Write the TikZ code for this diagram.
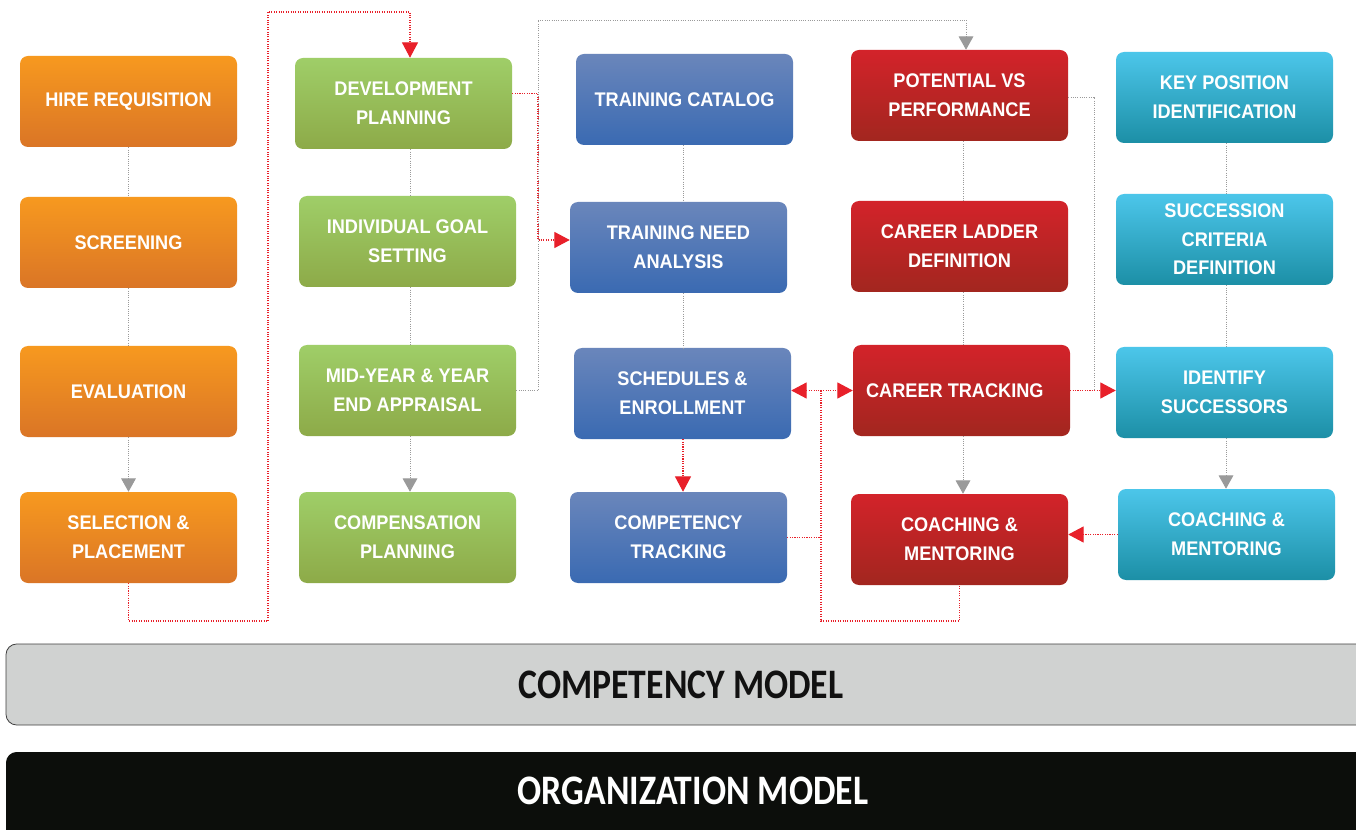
\documentclass[tikz,border=0pt]{standalone}
\usepackage{fontspec}
\usetikzlibrary{arrows.meta,calc}
\newfontfamily\bxf[FakeStretch=0.92]{Liberation Sans}
\newfontfamily\barf[FakeStretch=0.85]{Carlito}
\definecolor{OrT}{HTML}{F7991F}
\definecolor{OrB}{HTML}{DA7526}
\definecolor{GrT}{HTML}{9FCE68}
\definecolor{GrB}{HTML}{8DAA48}
\definecolor{BlT}{HTML}{6A86BB}
\definecolor{BlB}{HTML}{3A6AB2}
\definecolor{RdT}{HTML}{D3232A}
\definecolor{RdB}{HTML}{A2261F}
\definecolor{CyT}{HTML}{4CC6EA}
\definecolor{CyB}{HTML}{1C8FA6}
\definecolor{LineGray}{HTML}{9A9A9A}
\definecolor{LineRed}{HTML}{E8202A}
\definecolor{BarGray}{HTML}{D0D2D1}
\definecolor{BarBlack}{HTML}{0C0E0B}
\definecolor{TextDark}{HTML}{111111}
\begin{document}
\begin{tikzpicture}[x=0.75pt,y=-0.75pt,
  box/.style={rounded corners=6pt, minimum width=162.75pt, minimum height=68.25pt,
    align=center, text=white, inner sep=0pt,
    font=\bxf\bfseries\fontsize{14.8}{21.5}\selectfont},
  obox/.style={box, top color=OrT, bottom color=OrB},
  gbox/.style={box, top color=GrT, bottom color=GrB},
  bbox/.style={box, top color=BlT, bottom color=BlB},
  rbox/.style={box, top color=RdT, bottom color=RdB},
  cbox/.style={box, top color=CyT, bottom color=CyB},
  gline/.style={draw=LineGray, densely dotted, line width=0.7pt},
  garrow/.style={gline, -{Triangle[width=11pt,length=10pt]}},
  rline/.style={draw=LineRed, densely dotted, line width=0.8pt},
  rarrow/.style={rline, -{Triangle[width=12pt,length=11.5pt]}},
  rdarrow/.style={rline, {Triangle[width=12pt,length=11.5pt]}-{Triangle[width=12pt,length=11.5pt]}},
  bartext/.style={font=\barf\bfseries\fontsize{31.5}{36}\selectfont, inner sep=0pt},
]
\fill[white] (0,0) rectangle (1356,830);
\useasboundingbox (0,0) rectangle (1356,830);
\clip (0,0) rectangle (1356,830);

% nodes
\node[obox] (hire) at (128.5,101.5) {HIRE REQUISITION};
\node[obox] (scr) at (128.5,242.5) {SCREENING};
\node[obox] (eva) at (128.5,391.5) {EVALUATION};
\node[obox] (sel) at (128.5,537.5) {SELECTION \&\\PLACEMENT};

\node[gbox] (dev) at (403.5,103.5) {DEVELOPMENT\\PLANNING};
\node[gbox] (ind) at (407.5,241.5) {INDIVIDUAL GOAL\\SETTING};
\node[gbox] (mid) at (407.5,390.5) {MID-YEAR \& YEAR\\END APPRAISAL};
\node[gbox] (cmp) at (407.5,537.5) {COMPENSATION\\PLANNING};

\node[bbox] (cat) at (684.5,99.5) {TRAINING CATALOG};
\node[bbox] (tna) at (678.5,247.5) {TRAINING NEED\\ANALYSIS};
\node[bbox] (sch) at (682.5,393.5) {SCHEDULES \&\\ENROLLMENT};
\node[bbox] (ctr) at (678.5,537.5) {COMPETENCY\\TRACKING};

\node[rbox] (pot) at (959.5,95.5) {POTENTIAL VS\\PERFORMANCE};
\node[rbox] (lad) at (959.5,246.5) {CAREER LADDER\\DEFINITION};
\node[rbox] (trk) at (961.5,390.5) {CAREER TRACKING\hspace*{10pt}};
\node[rbox] (coa) at (959.5,539.5) {COACHING \&\\MENTORING};

\node[cbox] (key) at (1224.5,97.5) {KEY POSITION\\IDENTIFICATION};
\node[cbox] (suc) at (1224.5,239.5) {SUCCESSION\\CRITERIA\\DEFINITION};
\node[cbox] (ids) at (1224.5,392.5) {IDENTIFY\\SUCCESSORS};
\node[cbox] (cm5) at (1226.5,534.5) {COACHING \&\\MENTORING};

% column x positions
\coordinate (c1) at (128.5,0);
\coordinate (c2) at (410,0);
\coordinate (c3) at (683,0);
\coordinate (c4) at (963,0);
\coordinate (c5) at (1226,0);

% vertical connectors
\draw[gline] (hire.south -| c1) -- (scr.north -| c1);
\draw[gline] (scr.south -| c1) -- (eva.north -| c1);
\draw[garrow] (eva.south -| c1) -- (sel.north -| c1);

\draw[gline] (dev.south -| c2) -- (ind.north -| c2);
\draw[gline] (ind.south -| c2) -- (mid.north -| c2);
\draw[garrow] (mid.south -| c2) -- (cmp.north -| c2);

\draw[gline] (cat.south -| c3) -- (tna.north -| c3);
\draw[gline] (tna.south -| c3) -- (sch.north -| c3);
\draw[rarrow] (sch.south -| c3) -- (ctr.north -| c3);

\draw[gline] (pot.south -| c4) -- (lad.north -| c4);
\draw[gline] (lad.south -| c4) -- (trk.north -| c4);
\draw[garrow] (trk.south -| c4) -- (coa.north -| c4);

\draw[gline] (key.south -| c5) -- (suc.north -| c5);
\draw[gline] (suc.south -| c5) -- (ids.north -| c5);
\draw[garrow] (ids.south -| c5) -- (cm5.north -| c5);

% selection -> development planning
\coordinate (p1) at (268,621);
\coordinate (p2) at (410,12);
\draw[rarrow] (sel.south) |- (p1) |- (p2) -- (p2 |- dev.north);

% development planning -> training need analysis
\coordinate (p3) at (538,240);
\draw[rarrow] ($(dev.east)+(0,-10)$) -| (p3) -- (p3 -| tna.west);

% mid-year -> potential vs performance
\coordinate (p4) at (538,20);
\coordinate (p5) at (966,20);
\draw[garrow] (mid.east) -| (p4) -- (p5) -- (p5 |- pot.north);

% potential -> identify successors line
\coordinate (p6) at (1094,390.5);
\draw[gline] ($(pot.east)+(0,1.5)$) -| (p6);
\draw[rarrow] (trk.east) -- (trk.east -| ids.west);

% schedules <-> career tracking
\draw[rdarrow] (trk.west -| sch.east) -- (trk.west);
\coordinate (p7) at (821,390.5);
\coordinate (p8) at (821,621);
\draw[rline] (p7) -- (p8) -| (coa.south);
\draw[rline] (ctr.east) -- (ctr.east -| p7);

% cyan coaching -> red coaching
\draw[rarrow] (cm5.west) -- (cm5.west -| coa.east);

% bottom bars
\draw[fill=BarGray, draw=black!75, line width=0.6pt, rounded corners=8pt] (6,644) rectangle (1380,725);
\node[bartext, text=TextDark] (cmodel) at (681,684.5) {COMPETENCY MODEL};
\fill[BarBlack, rounded corners=8pt] (6,752) rectangle (1380,870);
\node[bartext, text=white] (omodel) at (693,790.5) {ORGANIZATION MODEL};
\end{tikzpicture}
\end{document}
